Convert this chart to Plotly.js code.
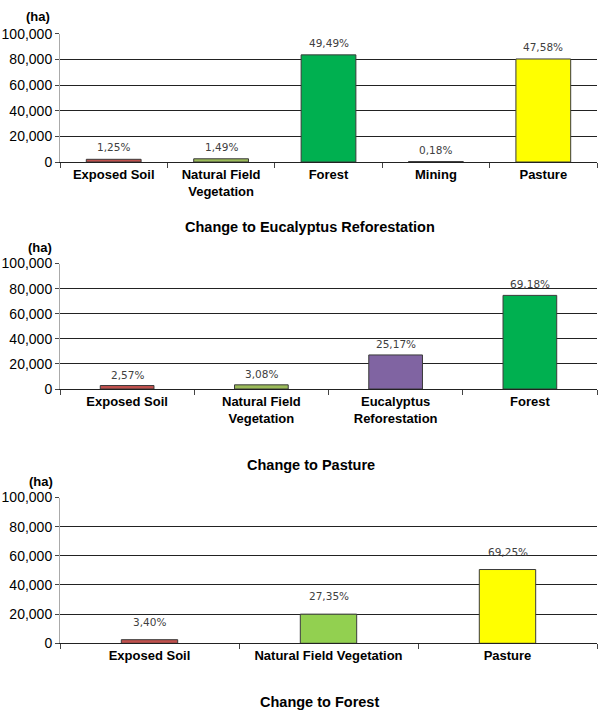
<!DOCTYPE html>
<html>
<head>
<meta charset="utf-8">
<script src="https://cdn.plot.ly/plotly-3.0.1.min.js"></script>
<style>html,body{margin:0;padding:0;background:#fff;}#chart{width:600px;height:711px;}</style>
</head>
<body>
<div id="chart"></div>
<script>
// ---- Data ----
const cats1 = ['Exposed Soil', 'Natural Field<br>Vegetation', 'Forest', 'Mining', 'Pasture'];
const vals1 = [2100, 2500, 83500, 300, 80300];
const pct1 = ['1,25%', '1,49%', '49,49%', '0,18%', '47,58%'];
const title1 = 'Change to Eucalyptus Reforestation';

const cats2 = ['Exposed Soil', 'Natural Field<br>Vegetation', 'Eucalyptus<br>Reforestation', 'Forest'];
const vals2 = [2770, 3320, 27140, 74600];
const pct2 = ['2,57%', '3,08%', '25,17%', '69,18%'];
const title2 = 'Change to Pasture';

const cats3 = ['Exposed Soil', 'Natural Field Vegetation', 'Pasture'];
const vals3 = [2480, 20000, 50600];
const pct3 = ['3,40%', '27,35%', '69,25%'];
const title3 = 'Change to Forest';

const yUnit = '(ha)';
const yTicks = [0, 20000, 40000, 60000, 80000, 100000];

// ---- Styles ----
const colors1 = ['#c0504d', '#9bbb59', '#00b050', '#4f4f4f', '#ffff00'];
const colors2 = ['#c0504d', '#9bbb59', '#8064a2', '#00b050'];
const colors3 = ['#c0504d', '#92d050', '#ffff00'];

const H = 711;
const py = px => 1 - px / H;

const panels = [
  {cats: cats1, vals: vals1, pct: pct1, colors: colors1, title: title1, gap: 0.49, top: 33.7, bot: 162, unitX: 38, unitY: 16.7, titleY: 226.7, titleX: 310, shift: 4},
  {cats: cats2, vals: vals2, pct: pct2, colors: colors2, title: title2, gap: 0.6, top: 263.5, bot: 389, unitX: 40, unitY: 247, titleY: 465, titleX: 311, shift: 3},
  {cats: cats3, vals: vals3, pct: pct3, colors: colors3, title: title3, gap: 0.685, top: 497.5, bot: 643.3, unitX: 41, unitY: 481, titleY: 702, titleX: 319, shift: 10}
];

const traces = [];
const layout = {
  width: 600, height: 711,
  margin: {l: 0, r: 0, t: 0, b: 0},
  paper_bgcolor: '#fff', plot_bgcolor: '#fff',
  showlegend: false,
  font: {family: 'Liberation Sans, Arial, sans-serif', color: '#000'},
  annotations: []
};

panels.forEach((p, i) => {
  const n = i === 0 ? '' : String(i + 1);
  const xa = 'x' + n, ya = 'y' + n;
  traces.push({
    type: 'bar', x: p.cats, y: p.vals, xaxis: xa, yaxis: ya,
    width: p.cats.map(() => 1 - p.gap),
    marker: {color: p.colors, line: {color: '#3a3a3a', width: 1}},
    hoverinfo: 'x+y'
  });
  layout['xaxis' + n] = {
    domain: [0.1, 0.995], anchor: ya, type: 'category',
    showgrid: false, showline: true, linecolor: '#222', linewidth: 1,
    ticks: 'outside', tickson: 'boundaries', ticklen: 5, tickcolor: '#444',
    tickfont: {family: 'Liberation Sans, Arial, sans-serif', size: 13, color: '#000', weight: 'bold'},
    fixedrange: true
  };
  layout['yaxis' + n] = {
    domain: [py(p.bot), py(p.top)], anchor: xa,
    range: [0, 100000], tickvals: yTicks, tickformat: ',d',
    showgrid: true, gridcolor: '#222', gridwidth: 1,
    zeroline: false, showline: true, linecolor: '#aaa', linewidth: 1,
    ticks: 'outside', ticklen: 4, tickcolor: '#444',
    tickfont: {family: 'Liberation Sans, Arial, sans-serif', size: 14, color: '#000'},
    fixedrange: true
  };
  p.cats.forEach((c, k) => {
    layout.annotations.push({
      xref: xa, yref: ya, x: c, y: p.vals[k], text: p.pct[k],
      showarrow: false, yanchor: 'bottom', yshift: p.shift,
      font: {family: 'DejaVu Sans, sans-serif', size: 10.5, color: '#404040'}
    });
  });
  layout.annotations.push({
    xref: 'paper', yref: 'paper', x: p.unitX / 600, y: py(p.unitY), text: yUnit,
    showarrow: false, xanchor: 'center', yanchor: 'middle',
    font: {family: 'Liberation Sans, Arial, sans-serif', size: 13, color: '#000', weight: 'bold'}
  });
  layout.annotations.push({
    xref: 'paper', yref: 'paper', x: p.titleX / 600, y: py(p.titleY), text: p.title,
    showarrow: false, xanchor: 'center', yanchor: 'middle',
    font: {family: 'Liberation Sans, Arial, sans-serif', size: 14.5, color: '#000', weight: 'bold'}
  });
});

Plotly.newPlot('chart', traces, layout, {displayModeBar: false, staticPlot: true});
</script>
</body>
</html>
